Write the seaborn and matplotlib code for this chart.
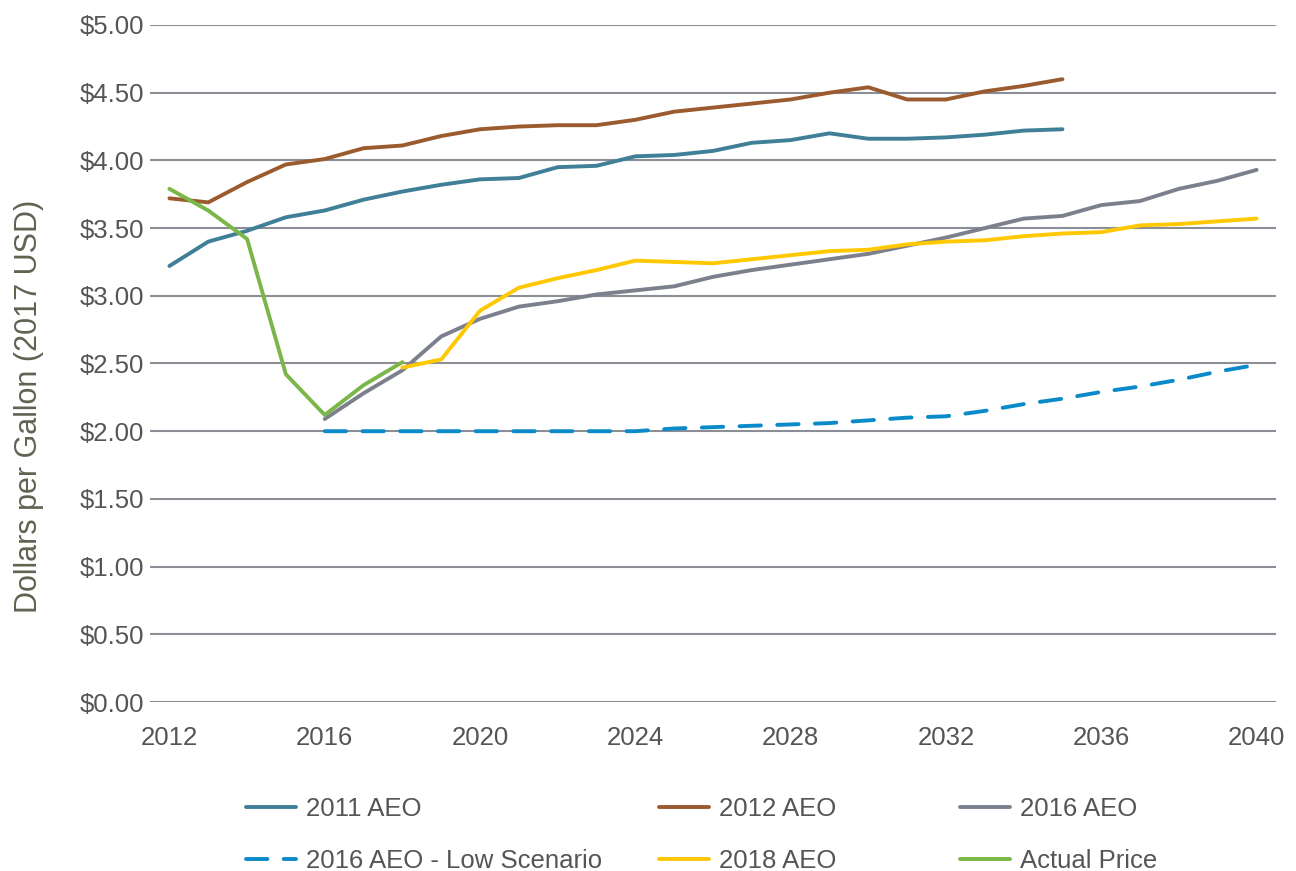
import matplotlib
matplotlib.use("Agg")
import matplotlib.pyplot as plt
import seaborn as sns
import pandas as pd

years_a = list(range(2012, 2036))
aeo_2011 = [3.22, 3.40, 3.48, 3.58, 3.63, 3.71, 3.77, 3.82, 3.86, 3.87, 3.95, 3.96,
            4.03, 4.04, 4.07, 4.13, 4.15, 4.20, 4.16, 4.16, 4.17, 4.19, 4.22, 4.23]
aeo_2012 = [3.72, 3.69, 3.84, 3.97, 4.01, 4.09, 4.11, 4.18, 4.23, 4.25, 4.26, 4.26,
            4.30, 4.36, 4.39, 4.42, 4.45, 4.50, 4.54, 4.45, 4.45, 4.51, 4.55, 4.60]

years_b = list(range(2016, 2041))
aeo_2016 = [2.09, 2.28, 2.45, 2.70, 2.83, 2.92, 2.96, 3.01, 3.04, 3.07, 3.14, 3.19,
            3.23, 3.27, 3.31, 3.37, 3.43, 3.50, 3.57, 3.59, 3.67, 3.70, 3.79, 3.85, 3.93]
aeo_2016_low = [2.00, 2.00, 2.00, 2.00, 2.00, 2.00, 2.00, 2.00, 2.00, 2.02, 2.03, 2.04,
                2.05, 2.06, 2.08, 2.10, 2.11, 2.15, 2.20, 2.24, 2.29, 2.33, 2.38, 2.44, 2.49]

years_c = list(range(2018, 2041))
aeo_2018 = [2.47, 2.53, 2.89, 3.06, 3.13, 3.19, 3.26, 3.25, 3.24, 3.27, 3.30, 3.33,
            3.34, 3.38, 3.40, 3.41, 3.44, 3.46, 3.47, 3.52, 3.53, 3.55, 3.57]

years_d = list(range(2012, 2019))
actual = [3.79, 3.63, 3.42, 2.42, 2.12, 2.34, 2.51]

x_ticks = list(range(2012, 2041, 4))
y_ticks = [i * 0.5 for i in range(11)]

sns.set_theme(style="white")
plt.rcParams['font.family'] = ['Liberation Sans', 'DejaVu Sans']

fig = plt.figure(figsize=(12.96, 8.71), dpi=100)
ax = fig.add_axes([150 / 1296, 1 - 702 / 871, 1126 / 1296, 677 / 871])

lw = 2.8
series = [
    ("2011 AEO", years_a, aeo_2011, "#3F7F97", "-"),
    ("2012 AEO", years_a, aeo_2012, "#9B5B2E", "-"),
    ("2016 AEO", years_b, aeo_2016, "#7C808D", "-"),
    ("2016 AEO - Low Scenario", years_b, aeo_2016_low, "#0A8AC9", "--"),
    ("2018 AEO", years_c, aeo_2018, "#FFC800", "-"),
    ("Actual Price", years_d, actual, "#7AB648", "-"),
]

for name, xs, ys, col, ls in series:
    df = pd.DataFrame({"year": xs, "price": ys})
    if ls == "--":
        sns.lineplot(data=df, x="year", y="price", color=col, lw=lw, ax=ax,
                     style=[0] * len(xs), dashes=[(5.5, 4.2)], legend=False,
                     dash_capstyle="round")
        ax.lines[-1].set_label(name)
    else:
        sns.lineplot(data=df, x="year", y="price", color=col, lw=lw,
                     label=name, ax=ax, solid_capstyle="round",
                     solid_joinstyle="round")

ax.set_xlim(2011.5, 2040.5)
ax.set_ylim(0, 5)
ax.set_xticks(x_ticks)
ax.set_yticks(y_ticks)
ax.set_yticklabels(["${:.2f}".format(v) for v in y_ticks])
ax.tick_params(axis="both", length=0, labelsize=18.5, colors="#555555")
ax.tick_params(axis="x", pad=17)
ax.tick_params(axis="y", pad=4)
ax.grid(axis="y", color="#8B8D97", lw=1.5)
ax.grid(axis="x", visible=False)
ax.set_axisbelow(True)
for s in ax.spines.values():
    s.set_visible(False)
ax.set_xlabel("")
ax.set_ylabel("Dollars per Gallon (2017 USD)", fontsize=22, color="#5F6350")
ax.yaxis.set_label_coords(-0.094, 0.436)

handles, labels = ax.get_legend_handles_labels()
lookup = dict(zip(labels, handles))
if ax.get_legend() is not None:
    ax.get_legend().remove()
cols = [["2011 AEO", "2016 AEO - Low Scenario"],
        ["2012 AEO", "2018 AEO"],
        ["2016 AEO", "Actual Price"]]
xpos = [246 / 1296, 659 / 1296, 960 / 1296]
for names, x0 in zip(cols, xpos):
    fig.legend([lookup[n] for n in names], names, loc="center left",
               bbox_to_anchor=(x0, 1 - 835 / 871), frameon=False,
               fontsize=18.5, labelcolor="#555555", borderpad=0,
               borderaxespad=0, handlelength=1.95, handletextpad=0.4,
               labelspacing=1.12)

fig.savefig("out.png", dpi=100)
